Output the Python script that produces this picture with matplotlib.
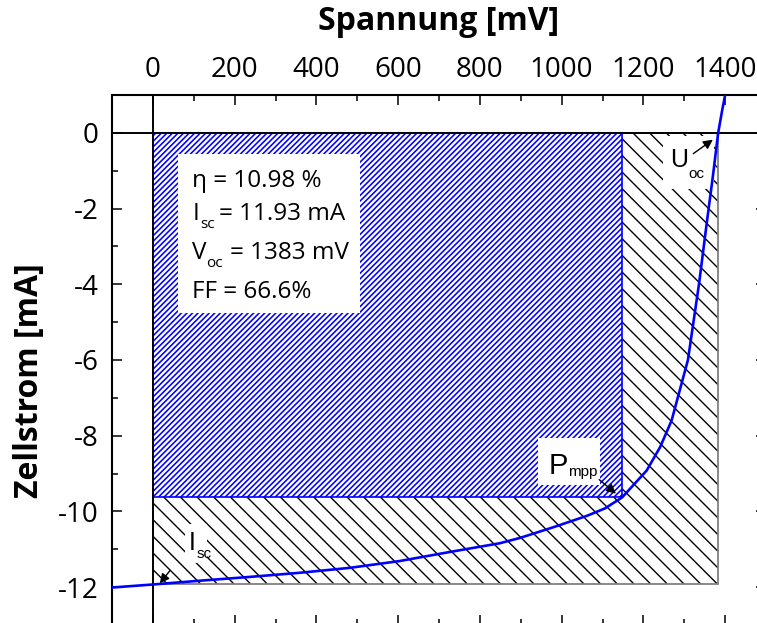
import matplotlib
matplotlib.use('Agg')
import matplotlib.pyplot as plt
from matplotlib.patches import Rectangle
from matplotlib.ticker import MultipleLocator

plt.rcParams['font.family'] = ['Open Sans', 'DejaVu Sans']
plt.rcParams['axes.unicode_minus'] = False
plt.rcParams['hatch.linewidth'] = 1.0

# I-V curve of the cell (mV, mA)
voltage = [-100, 0, 115, 237, 360, 482, 604, 727, 849, 898, 979, 1061, 1106,
           1148, 1208, 1241, 1269, 1309, 1336, 1356, 1370, 1383, 1392, 1400]
current = [-12.01, -11.93, -11.83, -11.73, -11.62, -11.49, -11.31, -11.07,
           -10.84, -10.70, -10.42, -10.12, -9.92, -9.63, -8.92, -8.30, -7.60,
           -6.0, -4.0, -2.3, -1.15, 0.0, 0.55, 1.0]

v_oc = 1383      # mV
i_sc = 11.93     # mA
v_mpp = 1148     # mV
i_mpp = 9.63     # mA
eta = 10.98      # %
ff = 66.6        # %

fig = plt.figure(figsize=(7.57, 6.23), dpi=100)
ax = fig.add_axes([112 / 757, -2 / 623, 654 / 757, 530 / 623])
ax.set_xlim(-100, 1500)
ax.set_ylim(-13, 1)
renderer = fig.canvas.get_renderer()

# Isc * Voc rectangle and the MPP rectangle
ax.add_patch(Rectangle((0, -i_sc), v_oc, i_sc, facecolor='white',
                       edgecolor='black', lw=0, hatch='\\\\', zorder=1))
ax.add_patch(Rectangle((0, -i_sc), v_oc, i_sc, fill=False,
                       edgecolor='#808080', lw=1.3, zorder=1.5))
with plt.rc_context({'hatch.linewidth': 1.15}):
    mpp_box = Rectangle((0, -i_mpp), v_mpp, i_mpp, facecolor='white',
                        edgecolor='#0000ff', lw=1.2, hatch='//////', zorder=2)
if hasattr(mpp_box, 'set_hatch_linewidth'):
    mpp_box.set_hatch_linewidth(1.15)
ax.add_patch(mpp_box)

ax.axhline(0, color='black', lw=1.4, zorder=3)
ax.axvline(0, color='black', lw=1.4, zorder=3)

# white boxes under the labels
for x0, y0, w, h in [(61, -4.75, 446, 4.2), (942, -9.31, 152, 1.26),
                     (1248, -1.48, 125, 1.40), (78, -11.35, 54, 1.03)]:
    ax.add_patch(Rectangle((x0, y0), w, h, facecolor='white',
                           edgecolor='none', zorder=4))

ax.plot(voltage, current, color='#0000ff', lw=1.9, zorder=5)


def sub_text(x, y, main, sub, rest='', size=17.5, sub_size=10.5, drop=6,
             gap=3.5, family=None):
    kw = dict(va='baseline', ha='left', zorder=6)
    if family:
        kw['family'] = family
    t = ax.text(x, y, main, fontsize=size, **kw)
    w = t.get_window_extent(renderer).width * 72 / fig.dpi
    s = ax.annotate(sub, (x, y), xytext=(w + 0.3, -drop),
                    textcoords='offset points', fontsize=sub_size, **kw)
    if rest:
        ws = s.get_window_extent(renderer).width * 72 / fig.dpi
        ax.annotate(rest, (x, y), xytext=(w + ws + gap, 0),
                    textcoords='offset points', fontsize=size, **kw)


ax.text(95, -1.44, f'\u03b7 = {eta:.2f} %', fontsize=17.5, va='baseline',
        zorder=6)
sub_text(98, -2.30, 'I', 'sc', f'= {i_sc:.2f} mA', sub_size=11, drop=5.8,
         gap=3.5)
sub_text(95, -3.33, 'V', 'oc', f'= {v_oc} mV', sub_size=11, drop=6.0, gap=5)
ax.text(95, -4.35, f'FF = {ff}%', fontsize=17.5, va='baseline', zorder=6)

lab = ['Liberation Sans', 'DejaVu Sans']
sub_text(967, -9.0, 'P', 'mpp', size=21, sub_size=11, drop=2, family=lab)
sub_text(1265, -0.90, 'U', 'oc', size=18, sub_size=11, drop=7.7, family=lab)
sub_text(88, -11.03, 'I', 'sc', size=18, sub_size=11, drop=5.8, family=lab)

arrow = dict(arrowstyle='-|>', color='black', lw=1.0, mutation_scale=14,
             shrinkA=0, shrinkB=0)
for head, tail in [((1133, -9.53), (1092, -9.16)),
                   ((1370, -0.18), (1322, -0.55)),
                   ((17, -11.9), (42, -11.56))]:
    ax.annotate('', xy=head, xytext=tail, arrowprops=arrow, zorder=7)

ax.xaxis.set_major_locator(MultipleLocator(200))
ax.xaxis.set_minor_locator(MultipleLocator(100))
ax.yaxis.set_major_locator(MultipleLocator(2))
ax.yaxis.set_minor_locator(MultipleLocator(1))
ax.tick_params(which='both', direction='in', top=True, bottom=True,
               left=True, right=True, labeltop=True, labelbottom=False,
               width=1.1, labelsize=20)
ax.tick_params(which='major', length=7.5)
ax.tick_params(which='minor', length=4.3)
ax.tick_params(axis='x', pad=8)
ax.tick_params(axis='y', pad=9.4)
for sp in ax.spines.values():
    sp.set_linewidth(1.5)

ax.xaxis.set_label_position('top')
ax.set_xlabel('Spannung [mV]', fontsize=23, fontweight='bold')
ax.xaxis.set_label_coords(0.5, 1.122)
ax.set_ylabel('Zellstrom [mA]', fontsize=23, fontweight='bold')
ax.yaxis.set_label_coords(-0.101, 0.462)

fig.savefig('out.png', dpi=100)
